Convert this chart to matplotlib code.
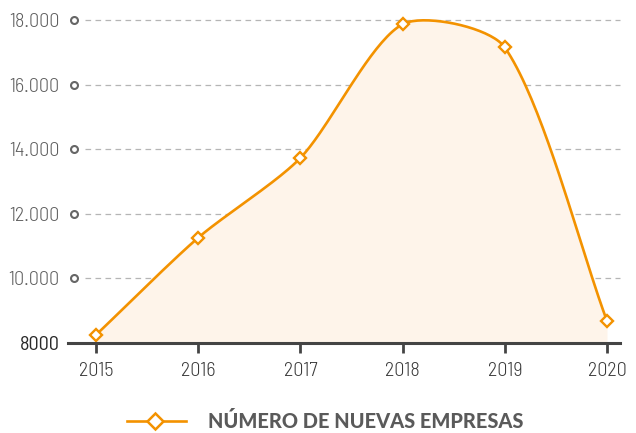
import numpy as np
import matplotlib
matplotlib.use("Agg")
import matplotlib.pyplot as plt
from matplotlib.lines import Line2D

# data
years = [2015, 2016, 2017, 2018, 2019, 2020]
empresas = [8250, 11260, 13730, 17870, 17150, 8680]
ytick_vals = [8000, 10000, 12000, 14000, 16000, 18000]
ytick_labels = ["8000", "10.000", "12.000", "14.000", "16.000", "18.000"]
legend_label = "NÚMERO DE NUEVAS EMPRESAS"

ORANGE = "#F39200"
FILL = "#FEF4EA"
AXIS = "#444444"
TICKFONT = ["Barlow Semi Condensed", "DejaVu Sans"]
LEGENDFONT = ["Lato", "DejaVu Sans"]


def spline(xs, ys, tension=0.3, sx=102.2, sy=0.0323, n=40):
    # chart.js style cubic bezier spline, control points in pixel space
    px = np.array(xs, float) * sx
    py = np.array(ys, float) * sy
    k = len(px)
    cps = []
    for i in range(k):
        prev = (px[max(i - 1, 0)], py[max(i - 1, 0)])
        cur = (px[i], py[i])
        nxt = (px[min(i + 1, k - 1)], py[min(i + 1, k - 1)])
        d01 = np.hypot(cur[0] - prev[0], cur[1] - prev[1])
        d12 = np.hypot(nxt[0] - cur[0], nxt[1] - cur[1])
        tot = d01 + d12
        s01 = d01 / tot if tot else 0
        s12 = d12 / tot if tot else 0
        fa, fb = tension * s01, tension * s12
        dx, dy = nxt[0] - prev[0], nxt[1] - prev[1]
        cps.append(((cur[0] - fa * dx, cur[1] - fa * dy), (cur[0] + fb * dx, cur[1] + fb * dy)))
    outx, outy = [], []
    t = np.linspace(0, 1, n)
    for i in range(k - 1):
        p0 = np.array([px[i], py[i]])
        p1 = np.array(cps[i][1])
        p2 = np.array(cps[i + 1][0])
        p3 = np.array([px[i + 1], py[i + 1]])
        b = ((1 - t) ** 3)[:, None] * p0 + (3 * (1 - t) ** 2 * t)[:, None] * p1 \
            + (3 * (1 - t) * t ** 2)[:, None] * p2 + (t ** 3)[:, None] * p3
        outx.extend(b[:, 0])
        outy.extend(b[:, 1])
    return np.array(outx) / sx, np.array(outy) / sy


fig = plt.figure(figsize=(6.36, 4.33), dpi=100)
ax = fig.add_axes([68 / 636, 90 / 433, 552 / 636, 323 / 433])
ax.set_xlim(2014.726, 2020.127)
ax.set_ylim(8000, 18000)

cx, cy = spline(years, empresas, tension=0.26)
ax.fill_between(cx, 8000, cy, color=FILL, lw=0, zorder=1)
ax.plot(cx, cy, color=ORANGE, lw=1.9, zorder=3, clip_on=False)
ax.plot(years, empresas, ls="none", marker="D", ms=6.3, mfc="white", mec=ORANGE,
        mew=1.7, zorder=4, clip_on=False)

# dashed grid and small circles at y ticks
grid_start = 2015 - 11 / 102.2
for v in ytick_vals[1:]:
    ax.plot([grid_start, 2020.127], [v, v], color="#b5b5b5", lw=0.9,
            dashes=(4.5, 3.5), zorder=0, clip_on=False)
    ax.plot([2015 - 22 / 102.2], [v], marker="o", ms=5, mfc="white", mec="#666666",
            mew=1.5, clip_on=False, zorder=2)

for s in ["left", "right", "top"]:
    ax.spines[s].set_visible(False)
ax.spines["bottom"].set_color(AXIS)
ax.spines["bottom"].set_linewidth(2.2)
ax.spines["bottom"].set_zorder(5)

ax.set_xticks(years)
ax.set_xticklabels([str(y) for y in years], fontsize=14.5, family=TICKFONT,
                   fontweight=300, color="#3a3a3a")
ax.tick_params(axis="x", direction="out", length=7, width=2, color=AXIS, pad=7)

ax.set_yticks(ytick_vals)
ax.set_yticklabels(ytick_labels, fontsize=14.5, family=TICKFONT, fontweight=300)
ax.tick_params(axis="y", length=0, pad=6)
for lbl in ax.get_yticklabels():
    if lbl.get_text() == "8000":
        lbl.set_color("#2a2a2a")
        lbl.set_fontweight("normal")
    else:
        lbl.set_color("#5e5e5e")

# legend
fig.add_artist(Line2D([127 / 636, 186 / 636], [12 / 433, 12 / 433], color=ORANGE, lw=1.9))
fig.add_artist(Line2D([155 / 636], [12 / 433], ls="none", marker="D", ms=8.5, mfc="white",
                      mec=ORANGE, mew=1.8))
fig.text(208 / 636, 12 / 433, legend_label, fontsize=14.4, fontweight=900,
         family=LEGENDFONT, color="#5a5a5a", va="center", ha="left")

fig.savefig("out.png", dpi=100)
